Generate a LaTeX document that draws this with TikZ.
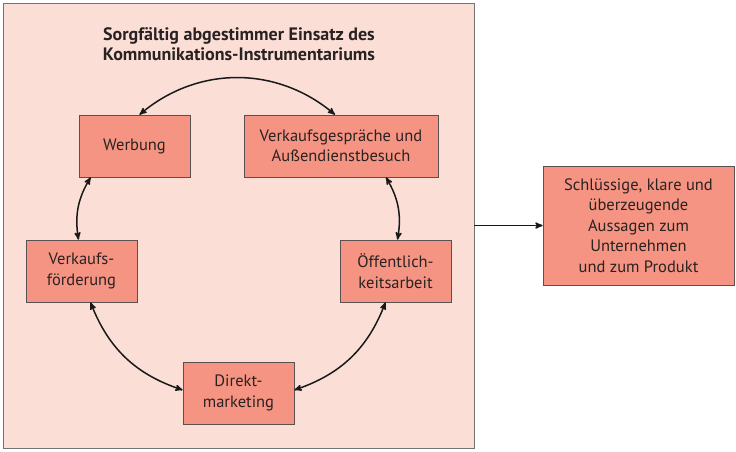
\documentclass[tikz,border=0pt]{standalone}
\usepackage{fontspec}
\setmainfont{PT Sans}
\usetikzlibrary{arrows}
\usetikzlibrary{positioning}
\definecolor{framefill}{HTML}{FBDFD7}
\definecolor{boxfill}{HTML}{F59482}
\definecolor{boxline}{HTML}{5A5050}
\definecolor{textdark}{HTML}{2A2222}
\tikzset{
    >=stealth',
    frame/.style={draw=gray!90!black, fill=framefill, line width=.6pt},
    instrument/.style={draw=boxline, fill=boxfill, line width=.7pt, align=center,
        minimum height=62pt, inner sep=2pt, text=textdark,
        font=\fontsize{16.5}{20.5}\selectfont},
    cycle/.style={<->, line width=1.5pt, draw=black!90},
    result/.style={->, line width=1.5pt, draw=black!90},
}
\begin{document}
\begin{tikzpicture}[x=1pt, y=-1pt]
    \useasboundingbox (0,0) rectangle (736,451);
    % Rahmen
    \draw[frame] (3,3) rectangle (474,448);
        \node[align=center, text=textdark, font=\bfseries\fontsize{18}{19.5}\selectfont] (title) at (239,44)
            {Sorgfältig abgestimmer Einsatz des\\Kommunikations-Instrumentariums};
    % Instrumente
    \node[instrument, minimum width=111pt] (werbung) at (134.5,146) {Werbung};
    \node[instrument, minimum width=194pt] (verkauf) at (341,146)
        {Verkaufsgespräche und\\Außendienstbesuch};
    \node[instrument, minimum width=111pt] (foerderung) at (81.5,271) {Verkaufs-\\förderung};
    \node[instrument, minimum width=111pt] (oeffentlich) at (395.5,271) {Öffentlich-\\keitsarbeit};
    \node[instrument, minimum width=111pt] (direkt) at (238.5,393) {Direkt-\\marketing};
    \node[instrument, minimum width=191pt, minimum height=119pt] (ziel) at (638.5,225.5)
        {Schlüssige, klare und\\überzeugende\\Aussagen zum\\Unternehmen\\und zum Produkt};
    \coordinate (rand) at (474,225.5);
    % Kreislauf
    \draw[cycle] ([xshift=5pt]werbung.north) to[bend left=40] ([xshift=-6pt]verkauf.north);
    \draw[cycle] ([xshift=12pt]werbung.south west) to[bend right=20] ([xshift=-3pt]foerderung.north);
    \draw[cycle] ([xshift=45pt]verkauf.south) to[bend left=20] ([xshift=2pt]oeffentlich.north);
    \draw[cycle] ([xshift=9pt]foerderung.south) to[bend right=25] ([yshift=3pt]direkt.west);
    \draw[cycle] ([xshift=-10pt]oeffentlich.south) to[bend left=25] ([yshift=3pt]direkt.east);
    \draw[result] (rand) -- (ziel.west);
\end{tikzpicture}
\end{document}
